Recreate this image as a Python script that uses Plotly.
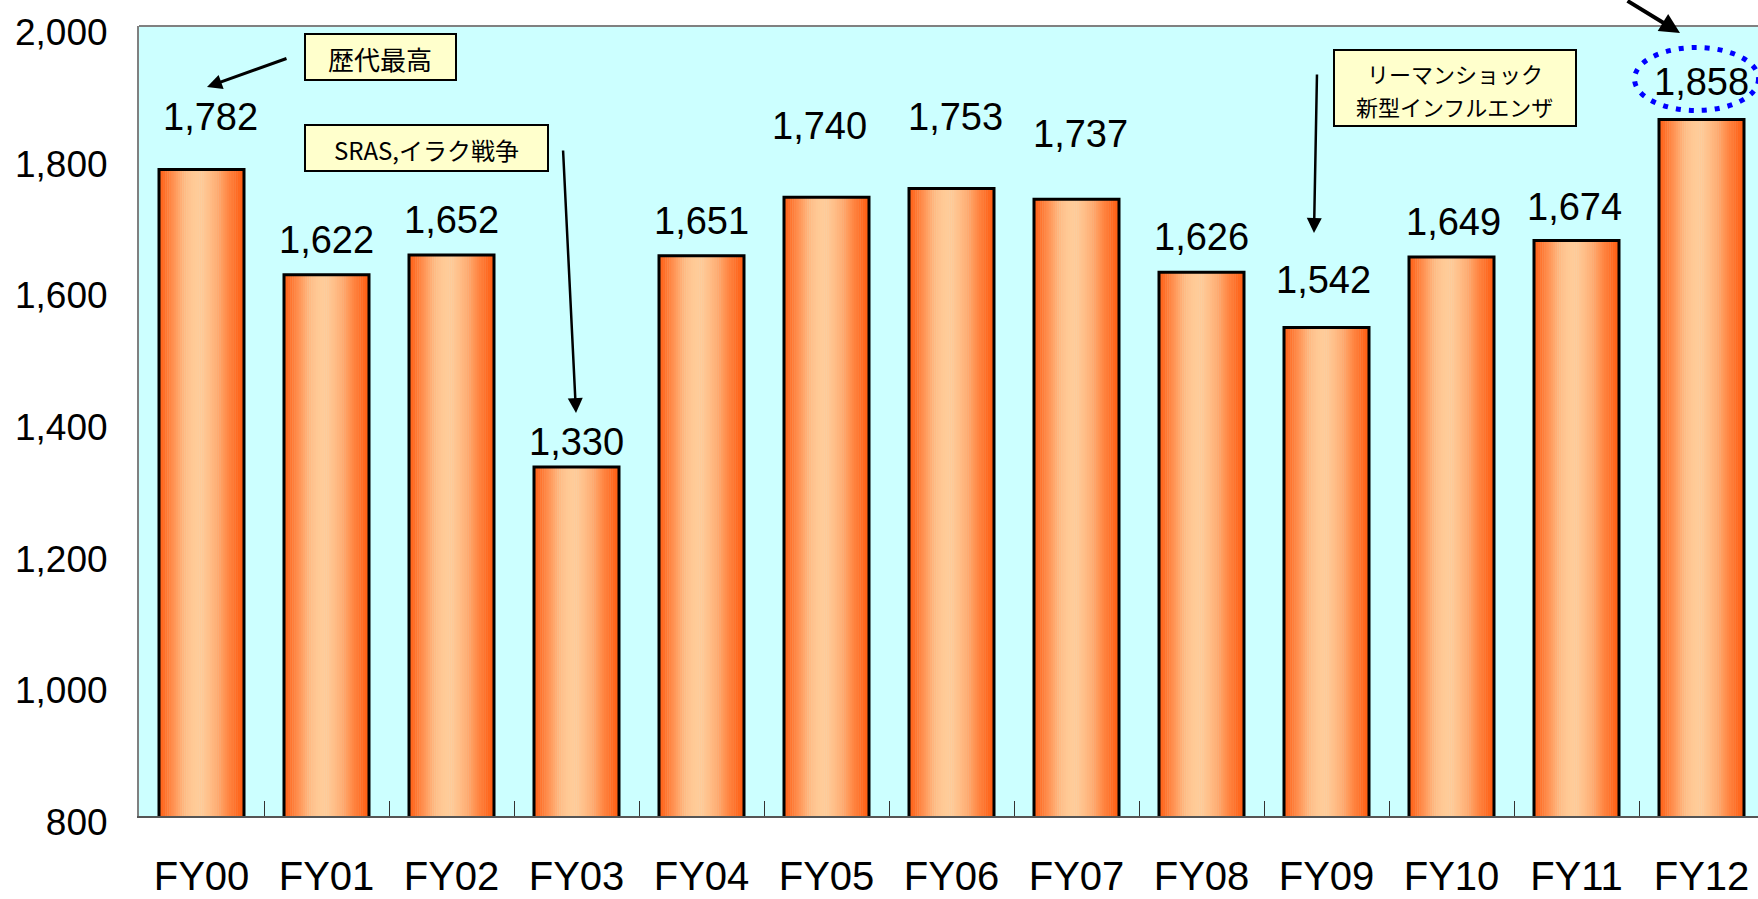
import math
import plotly.graph_objects as go

# Annual figures (FY00 - FY12)
categories = ["FY00", "FY01", "FY02", "FY03", "FY04", "FY05", "FY06",
              "FY07", "FY08", "FY09", "FY10", "FY11", "FY12"]
values = [1782, 1622, 1652, 1330, 1651, 1740, 1753, 1737, 1626, 1542, 1649, 1674, 1858]

# Value label placement (pixels above bar top / sideways nudge)
label_dy = [53, 35, 35, 25, 35, 71, 72, 65, 35, 48, 35, 34, 37]
label_dx = [9, 0, 0, 0, 0, -7, 4, 4, 0, -3, 2, -2, 0]

y_ticks = [800, 1000, 1200, 1400, 1600, 1800, 2000]

# Plot-area geometry in pixels
W, H = 1758, 899
PL, PT, PB = 139, 26, 816
CAT_W = 125.0
Y_MIN, Y_MAX = 800, 2000
X_RANGE = [-0.5, -0.5 + (W - PL) / CAT_W]

FONT = "Liberation Sans, Arial, Noto Sans CJK JP, sans-serif"
JFONT = "Noto Sans CJK JP, Liberation Sans, sans-serif"


def px_x(px):
    return (px - PL) / CAT_W - 0.5


def px_y(py):
    return Y_MAX - (py - PT) * (Y_MAX - Y_MIN) / (PB - PT)


fig = go.Figure()

# Cylinder-like shading: vertical strips of the same bars, orange edges to a pale centre
BAR_W = 0.68
N = 40
edge_l = (255, 98, 24)
edge_r = (255, 94, 18)
peak = (255, 203, 152)
peak_t = 0.45
step = BAR_W / N
for i in range(N):
    t = (i + 0.5) / N
    if t < peak_t:
        d = (peak_t - t) / peak_t
        edge = edge_l
    else:
        d = (t - peak_t) / (1 - peak_t)
        edge = edge_r
    f = math.cos(d * math.pi / 2) ** 1.4
    col = tuple(round(e + (p - e) * f) for e, p in zip(edge, peak))
    fig.add_trace(go.Bar(
        x=categories, y=values,
        width=step * 1.2, offset=-BAR_W / 2 + i * step - (step * 0.1 if i else 0),
        marker=dict(color="rgb(%d,%d,%d)" % col, line=dict(width=0)),
        hoverinfo="skip", showlegend=False,
    ))

# Bar outlines
fig.add_trace(go.Bar(
    x=categories, y=values, width=BAR_W,
    marker=dict(color="rgba(0,0,0,0)", line=dict(color="black", width=3)),
    hoverinfo="skip", showlegend=False,
))

annotations = []

# Value labels
for i, (c, v) in enumerate(zip(categories, values)):
    annotations.append(dict(
        x=i, y=v, xref="x", yref="y", text=f"{v:,}", showarrow=False,
        xanchor="center", yanchor="middle", xshift=label_dx[i], yshift=label_dy[i],
        font=dict(family=FONT, size=38, color="black"),
    ))


def callout_box(cx, cy, w, h):
    return dict(
        x=px_x(cx), y=px_y(cy), xref="x", yref="y", text=" ", showarrow=False,
        xanchor="center", yanchor="middle", width=w - 4, height=h - 4,
        bgcolor="#FFFFCC", bordercolor="black", borderwidth=2, borderpad=0,
    )


def callout_text(text, cx, cy, size):
    return dict(
        x=px_x(cx), y=px_y(cy), xref="x", yref="y", text=text, showarrow=False,
        xanchor="center", yanchor="middle",
        font=dict(family=JFONT, size=size, color="black"),
    )


def arrow(tip, tail, lw, size):
    return dict(
        x=px_x(tip[0]), y=px_y(tip[1]), xref="x", yref="y", text="",
        showarrow=True, arrowhead=2, arrowsize=size, arrowwidth=lw,
        arrowcolor="black", standoff=0,
        ax=tail[0] - tip[0], ay=tail[1] - tip[1],
    )


annotations += [
    callout_box(380, 57, 153, 48),
    callout_text("歴代最高", 380, 58, 26),
    callout_box(426, 148, 245, 48),
    callout_text("SRAS,イラク戦争", 426, 149, 24),
    callout_box(1454.5, 87.5, 244, 78),
    callout_text("リーマンショック", 1454.5, 73, 22),
    callout_text("新型インフルエンザ", 1454.5, 106, 22),
    arrow((207, 87), (288, 58), 3, 1.0),
    arrow((576, 413), (563, 149), 2.5, 1.2),
    arrow((1314, 233), (1317, 73), 2.5, 1.2),
    arrow((1680, 33), (1626, -10), 4, 1.0),
]

shapes = [
    # top frame line
    dict(type="line", xref="paper", yref="paper", x0=0, x1=1, y0=1, y1=1,
         line=dict(color="#808080", width=2), layer="above"),
    # dotted ring around the latest value
    dict(type="circle", xref="x", yref="y", xsizemode="pixel", ysizemode="pixel",
         xanchor=12, yanchor=values[12], x0=-67, x1=57, y0=9, y1=72,
         line=dict(color="#0000FF", width=5, dash="5px,8px"), layer="above"),
]

fig.update_layout(
    width=W, height=H,
    margin=dict(l=PL, r=0, t=PT, b=H - PB, pad=0, autoexpand=False),
    paper_bgcolor="white", plot_bgcolor="#CCFFFF",
    barmode="overlay", showlegend=False,
    annotations=annotations, shapes=shapes,
    font=dict(family=FONT, color="black"),
)

fig.update_xaxes(
    type="category", range=X_RANGE, tickson="boundaries",
    ticks="inside", ticklen=15, tickwidth=1, tickcolor="#333333",
    showline=True, linecolor="#555555", linewidth=2, mirror=False,
    showgrid=False, zeroline=False, automargin=False,
    tickfont=dict(family=FONT, size=40, color="black"),
    ticklabelstandoff=24,
)

fig.update_yaxes(
    range=[Y_MIN, Y_MAX], tickvals=y_ticks,
    ticktext=[f"{t:,}" for t in y_ticks],
    ticks="", showline=True, linecolor="#808080", linewidth=2,
    showgrid=False, zeroline=False, automargin=False,
    tickfont=dict(family=FONT, size=37, color="black"),
    ticklabelstandoff=22, ticklabelshift=6,
)

fig.write_html("out.html")
